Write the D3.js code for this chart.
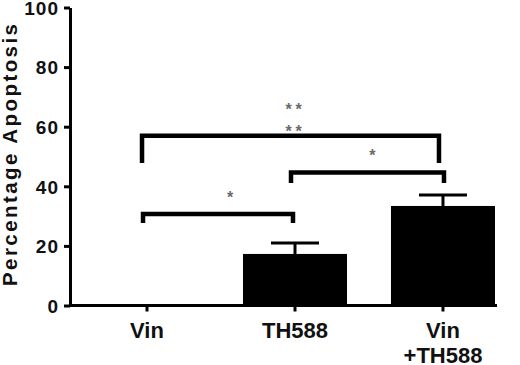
<!DOCTYPE html>
<html><head><meta charset="utf-8">
<script src="https://cdn.jsdelivr.net/npm/d3@7"></script>
<style>
html,body{margin:0;padding:0;background:#fff;}
svg{display:block;}
text{font-family:"Liberation Sans",Arial,sans-serif;font-weight:bold;}
</style></head>
<body>
<svg id="c" width="520" height="365"></svg>
<script>
const categories = ["Vin", "TH588", "Vin\n+TH588"];
const meanValues = [0, 17.3, 33.4];
const errorValues = [0, 3.7, 3.7];
const yTicks = [0, 20, 40, 60, 80, 100];
const yTitle = "Percentage Apoptosis";
// significance brackets: from index, to index, bar level, leg bottom level, label lines
const bracketFrom = [0, 1, 0];
const bracketTo = [2, 2, 1];
const bracketLevel = [57, 44.6, 30.7];
const bracketLeg = [47.8, 41.1, 27.7];
const starLabels = [["**", "**"], ["*"], ["*"]];

const svg = d3.select("#c");
const y = d3.scaleLinear().domain([0, 100]).range([305.5, 7.5]);
const x = d3.scaleBand().domain(categories).range([95, 495]).paddingInner(0.297).paddingOuter(0);
const cx = c => x(c) + x.bandwidth() / 2;

// bars
svg.selectAll("rect.bar").data(categories).enter().append("rect")
  .attr("x", c => x(c)).attr("width", x.bandwidth())
  .attr("y", (c, i) => y(meanValues[i]))
  .attr("height", (c, i) => y(0) - y(meanValues[i]))
  .attr("fill", "#000");

// error bars (upper)
categories.forEach((c, i) => {
  if (meanValues[i] <= 0) return;
  const top = y(meanValues[i] + errorValues[i]);
  svg.append("line").attr("x1", cx(c)).attr("x2", cx(c))
    .attr("y1", y(meanValues[i])).attr("y2", top)
    .attr("stroke", "#000").attr("stroke-width", 3);
  svg.append("line").attr("x1", cx(c) - 24).attr("x2", cx(c) + 24)
    .attr("y1", top).attr("y2", top)
    .attr("stroke", "#000").attr("stroke-width", 3);
});

// y axis
const ya = svg.append("g").attr("transform", "translate(70,0)")
  .call(d3.axisLeft(y).tickValues(yTicks).tickSize(6).tickSizeOuter(0).tickPadding(6));
ya.select(".domain").attr("stroke-width", 3);
ya.selectAll(".tick line").attr("stroke-width", 3);
ya.selectAll(".tick text").attr("font-size", 19).attr("fill", "#111")
  .attr("letter-spacing", "1px").attr("dx", "1px").attr("dy", "0.36em");

// x axis
const xa = svg.append("g").attr("transform", `translate(0,${y(0)})`)
  .call(d3.axisBottom(x).tickSize(6).tickSizeOuter(0).tickFormat(""));
xa.select(".domain").remove();
xa.append("line").attr("x1", 69).attr("x2", 497).attr("y1", 0).attr("y2", 0)
  .attr("stroke", "#000").attr("stroke-width", 3);
xa.selectAll(".tick line").attr("stroke-width", 3);
categories.forEach(c => {
  const t = svg.append("text").attr("text-anchor", "middle").attr("font-size", 22).attr("fill", "#111");
  c.split("\n").forEach((line, k) => {
    t.append("tspan").attr("x", cx(c)).attr("y", 338 + k * 24.5).text(line);
  });
});

// y title
svg.append("text").attr("transform", "translate(17,155) rotate(-90)")
  .attr("text-anchor", "middle").attr("font-size", 20.5).attr("fill", "#111")
  .attr("textLength", 262).attr("lengthAdjust", "spacing").text(yTitle);

// brackets
const offL = [-5, -4, -4], offR = [-4, 1, -2];
const starDx = [3, 5, 12];
bracketFrom.forEach((f, i) => {
  const x1 = cx(categories[f]) + offL[i], x2 = cx(categories[bracketTo[i]]) + offR[i];
  const yl = y(bracketLevel[i]), yb = y(bracketLeg[i]);
  svg.append("path").attr("d", `M${x1},${yb}V${yl}H${x2}V${yb}`)
    .attr("fill", "none").attr("stroke", "#000").attr("stroke-width", 4.5);
  const mid = (x1 + x2) / 2 + starDx[i];
  const lines = starLabels[i];
  lines.forEach((s, k) => {
    const base = lines.length === 2 ? (k === 0 ? yl - 21 : yl + 1.5) : yl - 11.5;
    const t = svg.append("text").attr("y", base)
      .attr("text-anchor", "middle").attr("font-size", 16).attr("font-weight", "normal")
      .attr("fill", "#6a6a6a");
    s.split("").forEach((ch, j) => {
      t.append("tspan").attr("x", mid + (j - (s.length - 1) / 2) * 10).text(ch);
    });
  });
});
</script>
</body></html>
